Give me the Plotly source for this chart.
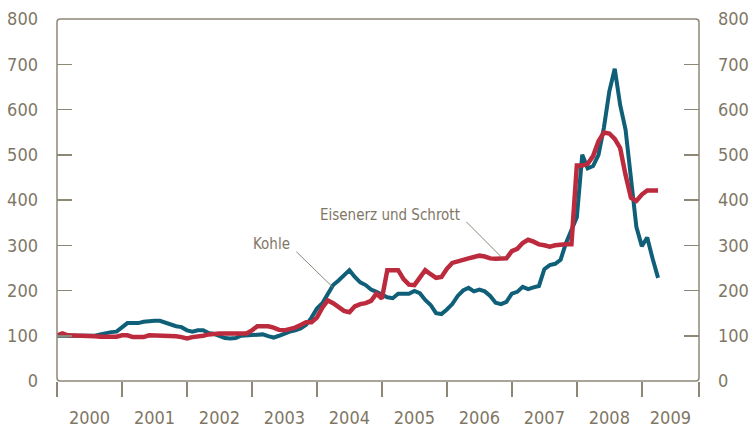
import plotly.graph_objects as go

# Monthly index values (Jan 2000 = 100), Jan 2000 .. Apr 2009
kohle = [
    100, 100, 100, 100, 100, 100, 100, 100, 103, 106, 108, 109,   # 2000
    118, 128, 128, 128, 131, 133, 133, 133, 129, 123, 121, 119,   # 2001
    112, 109, 112, 112, 106, 104, 100, 95, 94, 95, 100, 101,      # 2002
    103, 103, 103, 99, 96, 100, 105, 109, 112, 116, 124, 140,     # 2003
    160, 172, 192, 212, 222, 235, 245, 230, 218, 212, 202, 197,   # 2004
    192, 185, 183, 193, 193, 193, 199, 194, 179, 168, 150, 148,   # 2005
    158, 170, 188, 200, 206, 198, 202, 198, 188, 173, 170, 175,   # 2006
    193, 197, 208, 203, 207, 210, 247, 256, 259, 268, 305, 334,   # 2007
    362, 500, 470, 475, 500, 560, 640, 690, 610, 555, 440, 340,   # 2008
    298, 317, 270, 228,                                           # 2009
]
eisenerz = [
    101, 105, 101, 101, 101, 101, 101, 99, 98, 98, 98, 98,        # 2000
    101, 101, 97, 96, 97, 101, 101, 101, 101, 101, 99, 97,        # 2001
    94, 97, 98, 100, 103, 105, 105, 105, 105, 105, 105, 105,      # 2002
    112, 121, 121, 121, 118, 113, 112, 114, 118, 124, 130, 130,   # 2003
    140, 162, 178, 172, 163, 155, 152, 165, 170, 172, 177, 193,   # 2004
    182, 245, 245, 245, 225, 213, 212, 228, 245, 236, 228, 230,   # 2005
    248, 261, 265, 269, 271, 274, 277, 275, 271, 270, 270, 271,   # 2006
    287, 292, 305, 312, 308, 302, 300, 297, 300, 302, 302, 302,   # 2007
    476, 476, 480, 497, 530, 549, 547, 535, 515, 455, 405, 398,   # 2008
    412, 421, 421, 421,                                           # 2009
]
months = [2000 + i / 12 for i in range(len(kohle))]
years = list(range(2000, 2010))
x_end = 2009.88
y_ticks = [0, 100, 200, 300, 400, 500, 600, 700, 800]

TEXT = "#7f7766"
LINE = "#8e8778"
TEAL = "#0e5f77"
RED = "#bc2a3d"
FONT = "DejaVu Sans Condensed, DejaVu Sans, sans-serif"

fig = go.Figure()
fig.add_trace(go.Scatter(x=months, y=kohle, mode="lines", name="Kohle",
                         line=dict(color=TEAL, width=4)))
fig.add_trace(go.Scatter(x=months, y=eisenerz, mode="lines", name="Eisenerz und Schrott",
                         line=dict(color=RED, width=4.5)))
# invisible trace to activate right axis and label axis
fig.add_trace(go.Scatter(x=[2000], y=[0], yaxis="y2", xaxis="x2", mode="markers",
                         marker=dict(opacity=0), hoverinfo="skip", showlegend=False))

label_pos = [y + 0.5 for y in years[:-1]] + [(years[-1] + x_end) / 2]

fig.update_layout(
    width=749, height=429,
    margin=dict(l=57, r=50, t=19, b=48),
    paper_bgcolor="white", plot_bgcolor="white",
    showlegend=False,
    font=dict(family=FONT, color=TEXT, size=18),
    xaxis=dict(range=[2000, x_end], tickvals=years + [x_end], ticktext=[""] * 11,
               ticks="outside", ticklen=15, tickwidth=1.5, tickcolor=LINE,
               showgrid=False, zeroline=False, showline=False, automargin=False),
    xaxis2=dict(range=[2000, x_end], overlaying="x", side="bottom",
                tickvals=label_pos, ticktext=[str(y) for y in years],
                ticks="", showgrid=False, zeroline=False, showline=False,
                ticklabelstandoff=24, automargin=False,
                tickfont=dict(size=18, color=TEXT)),
    yaxis=dict(range=[0, 800], tickvals=y_ticks, ticks="inside", ticklen=15,
               tickwidth=1.5, tickcolor=LINE, showgrid=False, zeroline=False,
               showline=False, ticklabelstandoff=18, automargin=False,
               tickfont=dict(size=18, color=TEXT)),
    yaxis2=dict(range=[0, 800], tickvals=y_ticks, ticks="inside", ticklen=15,
                tickwidth=1.5, tickcolor=LINE, overlaying="y", side="right",
                showgrid=False, zeroline=False, showline=False,
                ticklabelstandoff=18, automargin=False,
                tickfont=dict(size=18, color=TEXT)),
)

rx, ry = 0.005, 0.009
path = (f"M 0,{ry} L 0,{1-ry} Q 0,1 {rx},1 L {1-rx},1 Q 1,1 1,{1-ry} "
        f"L 1,{ry} Q 1,0 {1-rx},0 L {rx},0 Q 0,0 0,{ry} Z")
fig.add_shape(type="path", path=path, xref="paper", yref="paper",
              line=dict(color=LINE, width=1.5), layer="above")

# labels and leader lines
fig.add_annotation(x=2003.615, y=302, text="Kohle", showarrow=False,
                   xanchor="right", yanchor="middle", font=dict(size=15, color=TEXT))
fig.add_annotation(x=2004.246, y=207, ax=2003.66, ay=289, axref="x", ayref="y",
                   text="", showarrow=True, arrowhead=0, arrowwidth=1, arrowcolor=LINE)
fig.add_annotation(x=2006.23, y=366, text="Eisenerz und Schrott", showarrow=False,
                   xanchor="right", yanchor="middle", font=dict(size=15, color=TEXT))
fig.add_annotation(x=2006.846, y=273, ax=2006.277, ay=355, axref="x", ayref="y",
                   text="", showarrow=True, arrowhead=0, arrowwidth=1, arrowcolor=LINE)

fig.write_html("out.html",
               config={"displayModeBar": False, "staticPlot": True},
               post_script="document.body.style.margin='0';document.body.style.overflow='hidden';")
